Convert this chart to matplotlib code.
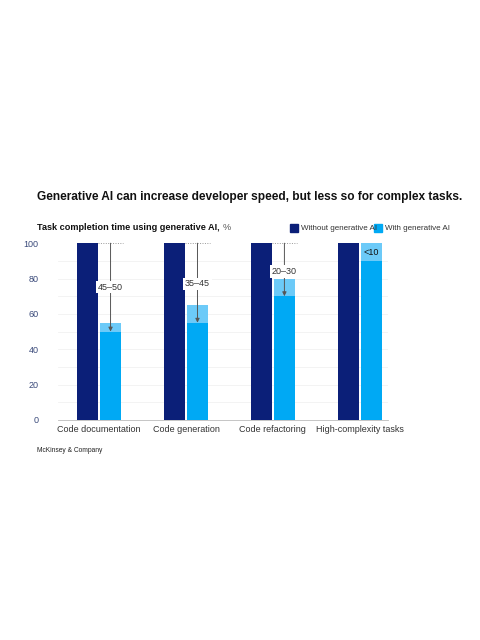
import matplotlib
matplotlib.use("Agg")
import matplotlib.pyplot as plt
import numpy as np

categories = ["Code documentation", "Code generation", "Code refactoring", "High-complexity tasks"]
without_ai = [100, 100, 100, 100]
with_ai_low = [50, 55, 70, 90]
with_ai_high = [55, 65, 80, 100]
reduction_labels = ["45–50", "35–45", "20–30", "<10"]
label_y = [75, 77, 84, 95]

DARK = "#0b1f78"; LIGHT = "#00a9f4"; PALE = "#6ccaf8"
plt.rcParams['font.family'] = ['Liberation Sans', 'DejaVu Sans']
fig = plt.figure(figsize=(4.8, 6.4), dpi=100)
ax = fig.add_axes([0.121, 0.344, 0.687, 0.276])
x = np.arange(len(categories)) * 87
w = 21
ax.bar(x - 11.5, without_ai, w, color=DARK, zorder=3)
ax.bar(x + 11.5, with_ai_high, w, color=PALE, zorder=3)
ax.bar(x + 11.5, with_ai_low, w, color=LIGHT, zorder=3)
for i in range(len(categories)):
    if i < 3:
        ax.plot([x[i] - 1, x[i] + 24], [100, 100], ls=(0, (1, 1.5)), color="#999999", lw=0.7, zorder=4)
        ax.annotate("", xy=(x[i] + 11.5, with_ai_low[i]), xytext=(x[i] + 11.5, 100),
                    arrowprops=dict(arrowstyle="-|>", color="#555555", lw=0.7,
                                    mutation_scale=6, shrinkA=0, shrinkB=0), zorder=5)
        ax.text(x[i] + 11.5, label_y[i], reduction_labels[i], ha="center", va="center", fontsize=6.5,
                color="#333333", zorder=6,
                bbox=dict(facecolor="white", edgecolor="none", pad=1.2))
    else:
        ax.text(x[i] + 11.5, 95, reduction_labels[i], ha="center", va="center", fontsize=6.5,
                color="#111111", zorder=6)
ax.set_xlim(-41, 289)
ax.set_ylim(0, 100)
ax.set_yticks([0, 20, 40, 60, 80, 100])
ax.set_xticks(x)
ax.set_xticklabels(categories, fontsize=6.5, color="#333333")
ax.tick_params(axis="y", labelsize=6.5, labelcolor="#3a4a7a", length=0, pad=14)
ax.tick_params(axis="x", length=0, pad=4)
for y in range(10, 100, 10):
    ax.axhline(y, color="#eeeeee", lw=0.5, zorder=0)
for s in ["top", "right", "left"]:
    ax.spines[s].set_visible(False)
ax.spines["bottom"].set_color("#bbbbbb")
ax.spines["bottom"].set_linewidth(0.6)

fig.text(37/480, 1-197/640, "Generative AI can increase developer speed, but less so for complex tasks.",
         fontsize=8.6, fontweight="bold", va="center", color="#111111")
t = fig.text(37/480, 1-228/640, "Task completion time using generative AI,", fontsize=6.6,
             fontweight="bold", va="center", color="#111111")
fig.canvas.draw()
bb = t.get_window_extent()
fig.text((bb.x1 + 3) / 480, 1-228/640, "%", fontsize=6.6, va="center", color="#555555")
fig.patches.append(plt.Rectangle((290/480, 1-232/640), 8/480, 8/640, color=DARK, transform=fig.transFigure))
fig.text(301/480, 1-228/640, "Without generative AI", fontsize=5.8, va="center", color="#333333")
fig.patches.append(plt.Rectangle((374/480, 1-232/640), 8/480, 8/640, color=LIGHT, transform=fig.transFigure))
fig.text(385/480, 1-228/640, "With generative AI", fontsize=5.8, va="center", color="#333333")
fig.text(37/480, 1-451/640, "McKinsey & Company", fontsize=4.8, va="center", color="#222222")
fig.savefig("out.png", dpi=100)
